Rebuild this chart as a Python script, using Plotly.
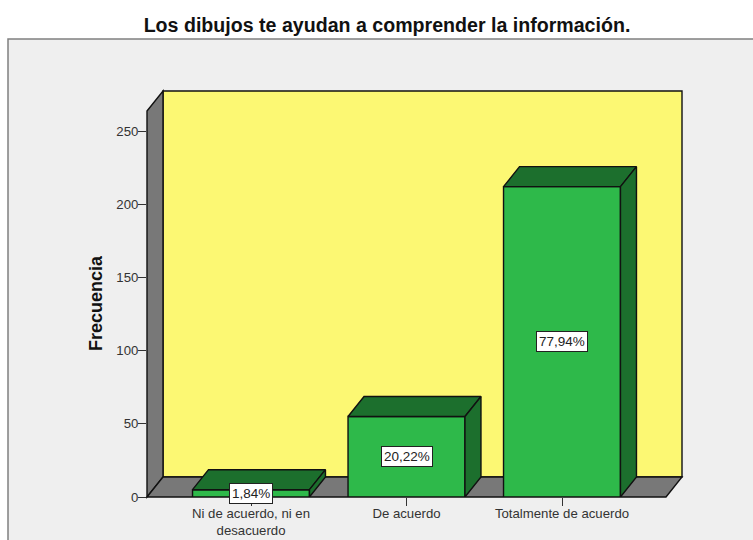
import plotly.graph_objects as go

categorias = ['Ni de acuerdo, ni en<br>desacuerdo', 'De acuerdo', 'Totalmente de acuerdo']
frecuencias = [5, 55, 212]
porcentajes = ['1,84%', '20,22%', '77,94%']
y_ticks = [0, 50, 100, 150, 200, 250]

# colores tipo SPSS
VERDE = '#2EB94A'
VERDE_OSCURO = '#1C6F2D'
AMARILLO = '#FCF873'
GRIS = '#787878'
PANEL = '#EFEFEF'
BORDE = '#111111'

W, H = 753, 540
# area del grafico en pixeles (caja completa de las paredes)
LEFT, RIGHT, TOP, BOTTOM = 147, 682, 91, 497
DX_PX, DY_PX = 16, 20
CAT_PX = 155.5
Y_PX = 1.464
ANCHO = 0.752

x_min = -(251 - LEFT) / CAT_PX
x_max = (RIGHT - 251) / CAT_PX
y_max = (BOTTOM - TOP) / Y_PX
dx = DX_PX / CAT_PX
dy = DY_PX / Y_PX


def px(x):
    return (x - LEFT) / (RIGHT - LEFT)


def py(y):
    return (BOTTOM - y) / (BOTTOM - TOP)


def poly(puntos, color, ancho=1.4, lcolor=BORDE):
    path = 'M ' + ' L '.join(f'{px(a):.5f},{py(b):.5f}' for a, b in puntos) + ' Z'
    return dict(type='path', xref='paper', yref='paper', path=path, fillcolor=color,
                line=dict(color=lcolor, width=ancho), layer='below')


shapes = [
    poly([(8, 39), (770, 39), (770, 560), (8, 560)], PANEL, 1.5, '#808080'),
    poly([(LEFT + DX_PX, TOP), (RIGHT, TOP), (RIGHT, BOTTOM - DY_PX), (LEFT + DX_PX, BOTTOM - DY_PX)], AMARILLO),
    poly([(LEFT, TOP + DY_PX), (LEFT + DX_PX, TOP), (LEFT + DX_PX, BOTTOM - DY_PX), (LEFT, BOTTOM)], GRIS),
    poly([(LEFT, BOTTOM), (LEFT + DX_PX, BOTTOM - DY_PX), (RIGHT, BOTTOM - DY_PX), (RIGHT - DX_PX, BOTTOM)], GRIS),
]

fig = go.Figure()

fig.add_trace(go.Bar(
    x=list(range(len(frecuencias))), y=frecuencias, width=ANCHO,
    marker=dict(color=VERDE, line=dict(color=BORDE, width=1.4)),
    showlegend=False, hoverinfo='y'
))

# caras superior y lateral de cada barra
for i, v in enumerate(frecuencias):
    a = i - ANCHO / 2
    b = i + ANCHO / 2
    fig.add_trace(go.Scatter(
        x=[a, a + dx, b + dx, b, a], y=[v, v + dy, v + dy, v, v],
        mode='lines', fill='toself', fillcolor=VERDE_OSCURO,
        line=dict(color=BORDE, width=1.4), showlegend=False, hoverinfo='skip'
    ))
    fig.add_trace(go.Scatter(
        x=[b, b + dx, b + dx, b, b], y=[0, dy, v + dy, v, 0],
        mode='lines', fill='toself', fillcolor=VERDE_OSCURO,
        line=dict(color=BORDE, width=1.4), showlegend=False, hoverinfo='skip'
    ))
    fig.add_annotation(
        x=i, y=v / 2, text=porcentajes[i], showarrow=False,
        font=dict(family='Liberation Sans', size=13.5, color='#222222'),
        bgcolor='white', bordercolor='#222222', borderwidth=1, borderpad=2
    )

fig.add_annotation(
    xref='paper', yref='paper', x=px(96), y=py(303), text='<b>Frecuencia</b>',
    textangle=-90, showarrow=False, xanchor='center', yanchor='middle',
    font=dict(family='Liberation Sans', size=18, color='#111111')
)

fig.update_layout(
    width=W, height=H, autosize=False,
    margin=dict(l=LEFT, r=W - RIGHT, t=TOP, b=H - BOTTOM, pad=0),
    paper_bgcolor='white', plot_bgcolor='rgba(0,0,0,0)',
    title=dict(text='<b>Los dibujos te ayudan a comprender la información.</b>',
               x=387 / W, y=1 - 25 / H, xanchor='center', yanchor='middle',
               font=dict(family='Liberation Sans', size=19.6, color='#111111')),
    shapes=shapes, showlegend=False,
    xaxis=dict(range=[x_min, x_max], tickmode='array', tickvals=list(range(len(categorias))),
               ticktext=categorias, ticks='outside', ticklen=8, tickwidth=1.4, tickcolor='#333333',
               ticklabelstandoff=-4,
               showgrid=False, zeroline=False, showline=False, automargin=False,
               tickfont=dict(family='Liberation Sans', size=13.2, color='#333333'), tickangle=0),
    yaxis=dict(range=[0, y_max], tickmode='array', tickvals=y_ticks,
               ticks='outside', ticklen=8, tickwidth=1.4, tickcolor='#333333',
               ticklabelstandoff=-3,
               showgrid=False, zeroline=False, showline=False, automargin=False,
               tickfont=dict(family='Liberation Sans', size=13.2, color='#333333')),
)

fig.write_html('out.html', config={'displayModeBar': False},
               post_script="document.body.style.margin='0';")
